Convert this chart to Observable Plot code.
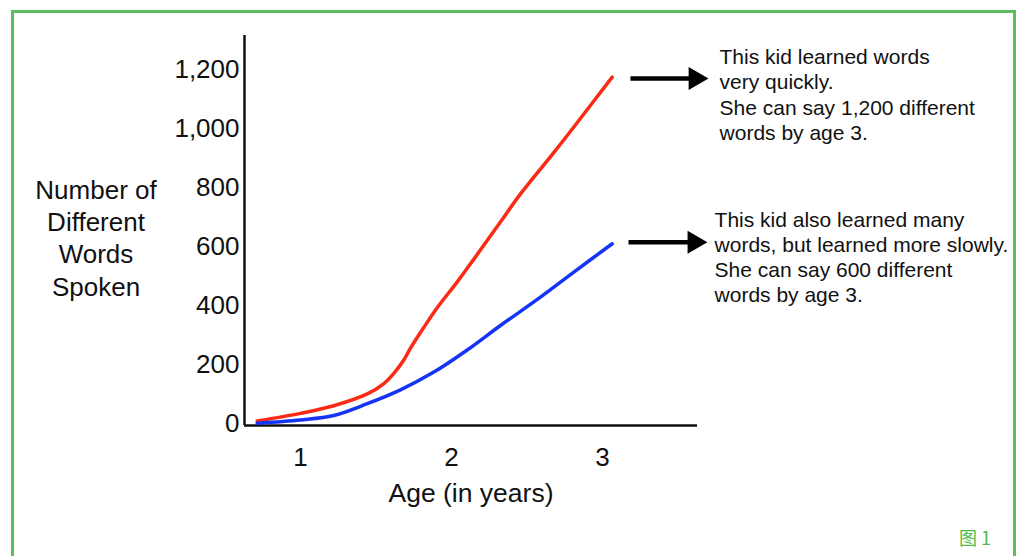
<!DOCTYPE html>
<html>
<head>
<meta charset="utf-8">
<script src="https://cdn.jsdelivr.net/npm/d3@7"></script>
<script src="https://cdn.jsdelivr.net/npm/@observablehq/plot@0.6"></script>
<style>
  html, body { margin: 0; padding: 0; background: #fff; }
  #page { position: relative; width: 1022px; height: 556px; overflow: hidden; background: #fff; }
  #frame { position: absolute; left: 11px; top: 10px; width: 999px; height: 600px;
           border: 3px solid #5bbd5b; border-bottom: none; box-sizing: content-box; }
  #chart { position: absolute; left: 0; top: 0; }
  #caption { position: absolute; left: 959px; top: 524px; font-family: "Noto Sans CJK SC", "Noto Sans", sans-serif;
             font-size: 18px; color: #4cba4c; }
</style>
</head>
<body>
<div id="page">
  <div id="frame"></div>
  <div id="chart"></div>
  <div id="caption">图 1</div>
</div>
<script>
// Data
const redAges  = [0.714, 1.001, 1.221, 1.443, 1.553, 1.619, 1.685, 1.729, 1.817, 1.906, 2.039, 2.149, 2.325, 2.458, 2.678, 2.811, 3.065];
const redWords = [8, 34, 60, 100, 135, 170, 215, 255, 325, 392, 480, 557, 683, 778, 918, 1005, 1174];
const blueAges  = [0.714, 1.001, 1.221, 1.443, 1.663, 1.884, 2.105, 2.325, 2.590, 2.811, 3.065];
const blueWords = [1, 12, 27, 67, 114, 174, 249, 332, 428, 513, 609];

const xTicks = [1, 2, 3];
const yTicks = [0, 200, 400, 600, 800, 1000, 1200];

const yLabel = "Number of\nDifferent\nWords\nSpoken";
const xLabel = "Age (in years)";

const notes = [
  "This kid learned words\nvery quickly.\nShe can say 1,200 different\nwords by age 3.",
  "This kid also learned many\nwords, but learned more slowly.\nShe can say 600 different\nwords by age 3."
];
const noteAge = [3.776, 3.743];
const noteWords = [1278, 727];

const arrowFrom = [3.186, 3.173];
const arrowTo = [3.615, 3.608];
const arrowWords = [1169, 614];

const red = redAges.map((a, i) => ({age: a, words: redWords[i]}));
const blue = blueAges.map((a, i) => ({age: a, words: blueWords[i]}));
const noteData = notes.map((t, i) => ({text: t, age: noteAge[i], words: noteWords[i]}));
const arrowData = arrowFrom.map((a, i) => ({x1: a, x2: arrowTo[i], y: arrowWords[i]}));

const font = "'Liberation Sans', Arial, Helvetica, sans-serif";

const chart = Plot.plot({
  width: 1022,
  height: 556,
  marginLeft: 244,
  marginRight: 325,
  marginTop: 35,
  marginBottom: 131,
  style: { fontFamily: font, background: "transparent", overflow: "visible", color: "#111" },
  x: { domain: [0.63, 3.63] },
  y: { domain: [-7, 1315] },
  marks: [
    Plot.axisY({ ticks: yTicks, tickSize: 0, tickPadding: 5, fontSize: 26, tickFormat: d3.format(","), label: null }),
    Plot.axisX({ ticks: xTicks, tickSize: 0, tickPadding: 22, fontSize: 26, tickFormat: d => String(d), label: null }),
    Plot.ruleX([0.63], { stroke: "#111", strokeWidth: 2.5 }),
    Plot.ruleY([-7], { stroke: "#111", strokeWidth: 2.5 }),
    Plot.line(red, { x: "age", y: "words", stroke: "#fb2a14", strokeWidth: 3.5, curve: "catmull-rom" }),
    Plot.line(blue, { x: "age", y: "words", stroke: "#1534f5", strokeWidth: 3.5, curve: "catmull-rom" }),
    Plot.link(arrowData, { x1: "x1", x2: "x2", y1: "y", y2: "y", stroke: "#000", strokeWidth: 4.5 }),
    Plot.dot(arrowData, { x: "x2", y: "y", symbol: "triangle", r: 8.5, fill: "#000", stroke: null, rotate: 90 }),
    Plot.text(noteData, { x: "age", y: "words", text: "text", textAnchor: "start", lineAnchor: "top",
                          lineHeight: 1.2, fontSize: 21, fill: "#111" }),
    Plot.text([yLabel], { frameAnchor: "left", dx: -148.5, dy: 6.5, textAnchor: "middle", lineAnchor: "middle",
                          lineHeight: 1.24, fontSize: 26, fill: "#111" }),
    Plot.text([xLabel], { frameAnchor: "bottom", dy: 68, textAnchor: "middle", lineAnchor: "middle",
                          fontSize: 26.5, fill: "#111" })
  ]
});
document.getElementById("chart").appendChild(chart);
</script>
</body>
</html>
